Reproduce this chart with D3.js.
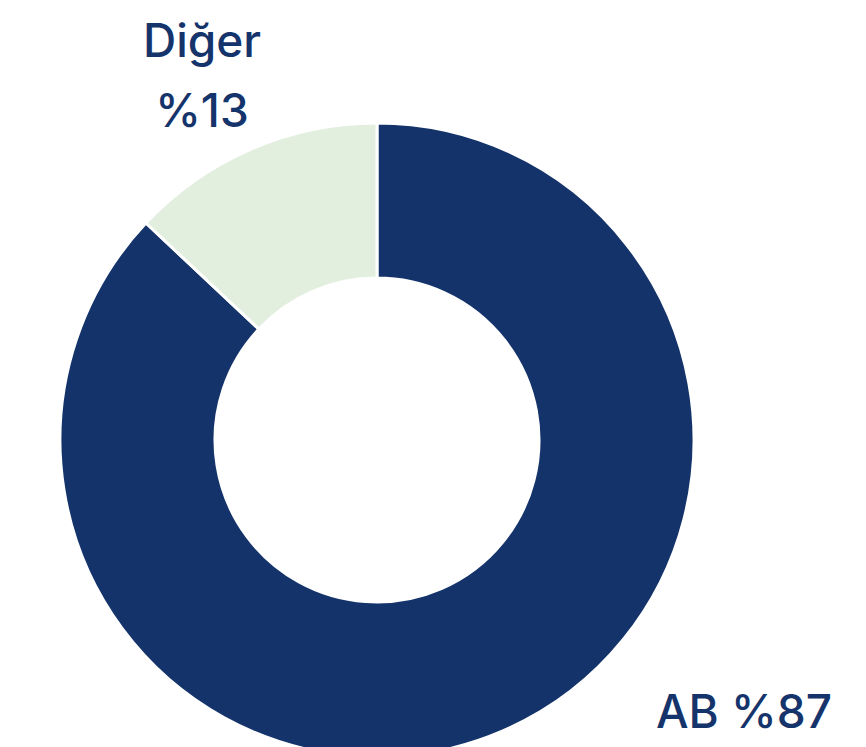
<!DOCTYPE html>
<html>
<head>
<meta charset="utf-8">
<script src="https://cdn.jsdelivr.net/npm/d3@7"></script>
<style>
    body { margin: 0; background: #fff; }
    svg { display: block; }
    text { font-family: Inter, "Open Sans", "DejaVu Sans", sans-serif; font-weight: 500; fill: #15346b; }
</style>
</head>
<body>
<div class="donut"></div>
<script>
var categories = ["AB", "Diğer"];
var shares = [87, 13];
var colors = ["#13336a", "#e2efdf"];
var labelLines = [["AB %87"], ["Diğer", "%13"]];

var svg_width = 866, svg_height = 747;
var cx = 377, cy = 440;
var outerR = 317, innerR = 162;

var svg = d3.select('.donut')
    .append("svg")
    .attr("width", svg_width)
    .attr("height", svg_height);

var g = svg.append("g")
    .attr("transform", "translate(" + cx + "," + cy + ")");

var pie = d3.pie().sort(null).value(function (d) { return d; });
var arcs = pie(shares);

var arc = d3.arc().innerRadius(innerR).outerRadius(outerR);

g.selectAll("path")
    .data(arcs)
    .enter()
    .append("path")
    .attr("d", arc)
    .attr("fill", function (d, i) { return colors[i]; })
    .attr("stroke", "#fff")
    .attr("stroke-width", 3);

// labels sit outside the ring: AB bottom right, Diğer top left
var labelPos = [
    {x: 367, y: 288},   // relative to centre
    {x: -175, y: -383}
];
var lineGap = 70;

arcs.forEach(function (d, i) {
    var t = g.append("text")
        .attr("text-anchor", "middle")
        .attr("font-size", 46)
        .attr("x", labelPos[i].x)
        .attr("y", labelPos[i].y);
    labelLines[i].forEach(function (line, j) {
        t.append("tspan")
            .attr("x", labelPos[i].x)
            .attr("dy", j === 0 ? 0 : lineGap)
            .text(line);
    });
});
</script>
</body>
</html>
